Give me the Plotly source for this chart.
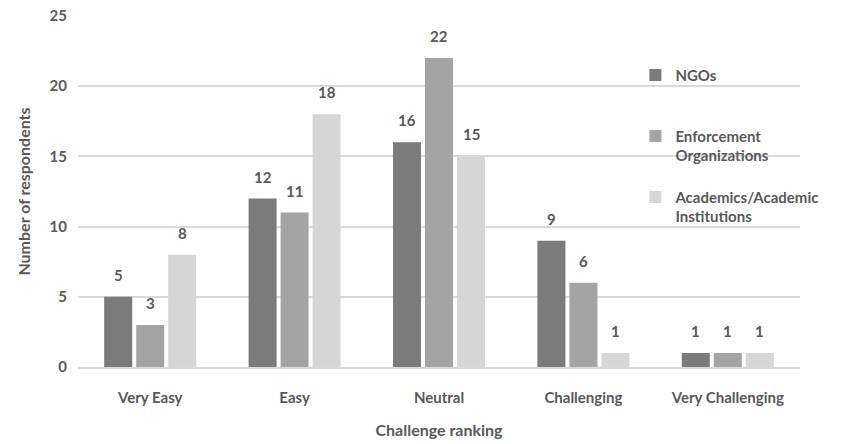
import plotly.graph_objects as go

categories = ["Very Easy", "Easy", "Neutral", "Challenging", "Very Challenging"]
ngos = [5, 12, 16, 9, 1]
enforcement = [3, 11, 22, 6, 1]
academics = [8, 18, 15, 1, 1]
series_names = ["NGOs<br>&nbsp;", "Enforcement<br>Organizations", "Academics/Academic<br>Institutions"]
colors = ["#7b7b7b", "#a4a4a4", "#d6d6d6"]
y_ticks = [0, 5, 10, 15, 20, 25]

txt = "#595959"
font_fam = "Lato, 'Open Sans', sans-serif"

W, H = 841, 444
ML, MR, MT, MB = 78, 41, 16, 77
BARGAP, GROUPGAP = 0.335, 0.125

fig = go.Figure()
series = [ngos, enforcement, academics]
for i, (name, vals) in enumerate(zip(series_names, series)):
    fig.add_trace(go.Bar(
        x=categories, y=vals, name=name,
        marker=dict(color=colors[i], line=dict(width=0)),
        legendgroup=f"g{i}",
    ))

# value labels above bars
cat_w = (W - ML - MR) / len(categories)
slot = cat_w * (1 - BARGAP) / len(series)
for i, vals in enumerate(series):
    shift = (i - (len(series) - 1) / 2) * slot
    for c, v in zip(categories, vals):
        fig.add_annotation(
            x=c, y=v, xref="x", yref="y", text=str(v), showarrow=False,
            xshift=shift, yshift=22, yanchor="middle",
            font=dict(family=font_fam, size=15, color=txt, weight="bold"),
        )

fig.update_layout(
    width=W, height=H,
    margin=dict(l=ML, r=MR, t=MT, b=MB, autoexpand=False),
    paper_bgcolor="white", plot_bgcolor="white",
    barmode="group", bargap=BARGAP, bargroupgap=GROUPGAP,
    font=dict(family=font_fam, color=txt),
    showlegend=True,
    legend=dict(
        x=0.772, y=0.878, xanchor="left", yanchor="top",
        bgcolor="rgba(0,0,0,0)", valign="top", tracegroupgap=19,
        font=dict(family=font_fam, size=15, color=txt, weight="bold"),
        itemwidth=30,
    ),
    xaxis=dict(
        automargin=False,
        showgrid=False, showline=True, linecolor="#d9d9d9", linewidth=1.5,
        ticks="", ticklabelstandoff=16,
        tickfont=dict(family=font_fam, size=15, color=txt, weight="bold"),
        title=dict(text="Challenge ranking", standoff=20,
                   font=dict(family=font_fam, size=16, color=txt, weight="bold")),
    ),
    yaxis=dict(
        automargin=False,
        range=[0, 25], tickvals=y_ticks, showgrid=True, gridcolor="#d9d9d9", gridwidth=1.5,
        zeroline=False, showline=False, ticks="", ticklabelstandoff=10,
        tickfont=dict(family=font_fam, size=15, color=txt, weight="bold"),
        title=dict(text="Number of respondents", standoff=14,
                   font=dict(family=font_fam, size=16, color=txt, weight="bold")),
    ),
)

fig.write_html("out.html")
